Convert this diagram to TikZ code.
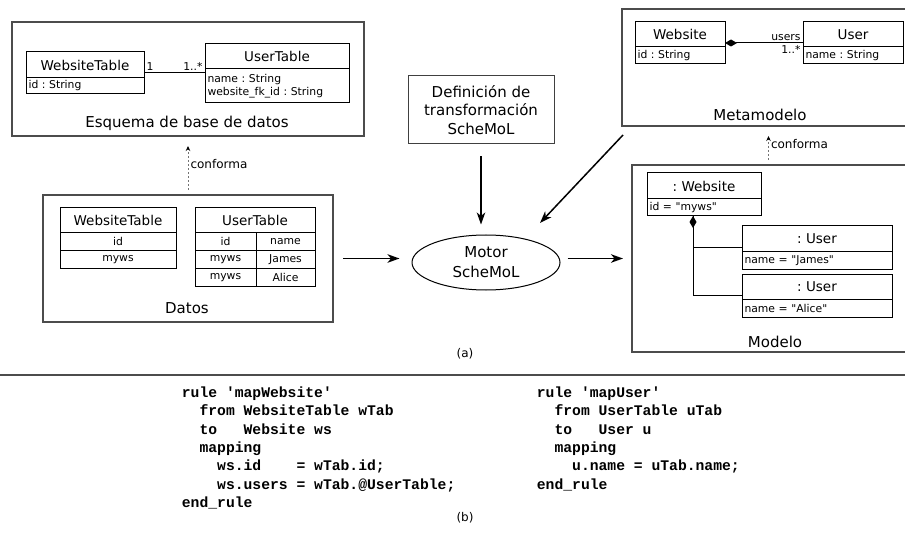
\documentclass[tikz,border=0pt]{standalone}
\usepackage{fontspec}
\setmainfont{DejaVu Sans}[Ligatures=TeXOff]
\setmonofont{Liberation Mono}
\usetikzlibrary{arrows.meta,positioning,shapes.geometric,fit,calc}
\newcommand{\umlheadfont}{\fontsize{13.5}{16}\selectfont}
\newcommand{\umlattrfont}{\fontsize{10.8}{13.3}\selectfont}
\newcommand{\framefont}{\fontsize{15}{18.7}\selectfont}
\newcommand{\codeind}[1]{\hspace*{#1\dimexpr 0.6em\relax}}
\frenchspacing

\begin{document}
\begin{tikzpicture}[x=1pt,y=-1pt,
  frame/.style={draw=black!70,line width=1.2pt,anchor=north west,inner sep=0pt,outer sep=0pt},
  framelabel/.style={font=\framefont},
  umlhead/.style 2 args={draw,line width=1pt,anchor=north west,inner sep=0pt,outer sep=0pt,
    minimum width=#1,minimum height=#2,font=\umlheadfont},
  umlattr/.style 2 args={draw,line width=1pt,anchor=north west,inner xsep=2.5pt,inner ysep=0pt,outer sep=0pt,
    text width=#1,minimum height=#2,align=left,font=\umlattrfont},
  umlclass/.style={fit=#1,inner sep=0pt,outer sep=0pt},
  cell/.style 2 args={draw,line width=1pt,anchor=north west,inner sep=0pt,outer sep=0pt,
    minimum width=#1,minimum height=#2,font=\umlattrfont},
  compo/.style={{Diamond[length=12pt,width=7pt]}-,line width=1pt},
  assoc/.style={line width=1pt},
  flow/.style={-{Stealth[length=12pt,width=8.5pt,inset=3.5pt]},line width=1.5pt},
  conf/.style={draw=black!55,line width=1pt,dash pattern=on 1.5pt off 2.5pt,
    -{Stealth[length=5pt,width=4.5pt,color=black]}},
  conflabel/.style={font=\fontsize{12}{14}\selectfont,inner sep=2pt},
  multlabel/.style={font=\umlattrfont,inner sep=2pt},
  codeblock/.style={anchor=base west,align=left,inner sep=0pt,
    font=\ttfamily\bfseries\fontsize{14.7}{18.3}\selectfont},
  caption/.style={font=\fontsize{12}{14}\selectfont}
]
  \useasboundingbox (0,0) rectangle (905,540);

  % (a)
  \node[frame,minimum width=352pt,minimum height=114pt] (esquema) at (12,22) {};
  \node[frame,minimum width=290pt,minimum height=127pt] (datos) at (43,195) {};
  \node[frame,minimum width=293pt,minimum height=117pt] (meta) at (622,9) {};
  \node[frame,minimum width=283pt,minimum height=187pt] (modelo) at (632,165) {};

  \node[umlhead={118pt}{26pt}] (wth) at (26,52) {WebsiteTable};
  \node[umlattr={113pt}{16pt}] (wta) at (wth.south west) {id : String};
  \node[umlclass={(wth)(wta)}] (wtclass) {};
  \node[umlhead={144pt}{25pt}] (uth) at (205,44) {UserTable};
  \node[umlattr={139pt}{34pt}] (uta) at (uth.south west) {name : String\\website\_fk\_id : String};
  \node[umlclass={(uth)(uta)}] (utclass) {};
  \draw[assoc] (wtclass.east) -- (wtclass.east -| utclass.west)
    node[pos=0,above right,multlabel] {1}
    node[pos=1,above left,multlabel] {1..*};
  \node[framelabel] (esquemalbl) at (187,123) {Esquema de base de datos};

  \node[cell={116pt}{25pt},font=\umlheadfont] (wtt) at (60,208) {WebsiteTable};
  \node[cell={116pt}{17.7pt}] (wtid) at (wtt.south west) {id};
  \node[cell={116pt}{17.7pt}] (wtval) at (wtid.south west) {myws};
  \node[cell={120pt}{25pt},font=\umlheadfont] (utt) at (195,208) {UserTable};
  \foreach \uid/\uname [count=\r from 0] in {id/name,myws/James,myws/Alice} {
    \node[cell={61pt}{17.7pt}] (utid\r) at (195,{233+17.7*\r}) {\uid};
    \node[cell={59pt}{17.7pt}] (utname\r) at (utid\r.north east) {\uname};
  }
  \node[framelabel] (datoslbl) at (187,308) {Datos};

  \node[umlhead={90pt}{25pt}] (mwh) at (635,22) {Website};
  \node[umlattr={85pt}{17pt}] (mwa) at (mwh.south west) {id : String};
  \node[umlclass={(mwh)(mwa)}] (mwclass) {};
  \node[umlhead={100pt}{25pt}] (muh) at (803,22) {User};
  \node[umlattr={95pt}{17pt}] (mua) at (muh.south west) {name : String};
  \node[umlclass={(muh)(mua)}] (muclass) {};
  \draw[compo] (mwclass.east) -- (muclass.west)
    node[pos=1,above left,multlabel] {users}
    node[pos=1,below left,multlabel] {1..*};
  \node[framelabel] (metalbl) at (760,115) {Metamodelo};

  \node[umlhead={114pt}{26pt}] (owh) at (647,173) {: Website};
  \node[umlattr={109pt}{17pt}] (owa) at (owh.south west) {id = "myws"};
  \node[umlhead={150pt}{26pt}] (ou1h) at (742,226) {: User};
  \node[umlattr={145pt}{17pt}] (ou1a) at (ou1h.south west) {name = "James"};
  \node[umlclass={(ou1h)(ou1a)}] (ou1) {};
  \node[umlhead={150pt}{25pt}] (ou2h) at (742,274) {: User};
  \node[umlattr={145pt}{18pt}] (ou2a) at (ou2h.south west) {name = "Alice"};
  \node[umlclass={(ou2h)(ou2a)}] (ou2) {};
  \coordinate (owlink) at ([xshift=-11pt]owa.south);
  \draw[compo] (owlink) |- (ou1.west);
  \draw[assoc] (owlink) |- (ou2.west);
  \node[framelabel] (modelolbl) at (775,342) {Modelo};

  \node[draw=black!75,line width=1pt,minimum width=146pt,minimum height=68pt,align=center,
    font=\framefont] (defn) at (481,110) {Definición de\\transformación\\ScheMoL};
  \node[ellipse,draw,line width=1pt,minimum width=148pt,minimum height=55pt,align=center,
    font=\fontsize{15}{20}\selectfont] (motor) at (486,262.5) {Motor\\ScheMoL};

  \draw[flow,shorten <=12pt,shorten >=10pt] (defn.south) -- (defn.south |- motor.north);
  \draw[flow,shorten <=10pt,shorten >=12pt] (datos.east) -- (datos.east -| motor.west);
  \draw[flow,shorten <=7pt,shorten >=9pt] (motor.east |- modelo.west) -- (modelo.west);
  \draw[flow] ([xshift=1pt,yshift=-9pt]meta.south west) -- ([xshift=54pt,yshift=39.5pt]motor.center);

  \draw[conf,shorten <=5pt,shorten >=10pt] (datos.north) -- (esquema.south)
    node[pos=0.52,right,conflabel] {conforma};
  \draw[conf,shorten <=5pt,shorten >=10pt] (meta.south |- modelo.north) -- (meta.south)
    node[pos=0.55,right,conflabel] {conforma};

  \node[caption] (capa) at (465,354) {(a)};
  \draw[draw=black!70,line width=1.2pt] (0,375) -- (905,375);

  % (b)
  \node[codeblock] (rulews) at (181.7,507.3) {rule 'mapWebsite'\\
    \codeind{2}from WebsiteTable wTab\\
    \codeind{2}to\ \ \ Website ws\\
    \codeind{2}mapping\\
    \codeind{4}ws.id\ \ \ \ = wTab.id;\\
    \codeind{4}ws.users = wTab.@UserTable;\\
    end\_rule};
  \node[codeblock] (ruleuser) at (536.7,489) {rule 'mapUser'\\
    \codeind{2}from UserTable uTab\\
    \codeind{2}to\ \ \ User u\\
    \codeind{2}mapping\\
    \codeind{4}u.name = uTab.name;\\
    end\_rule};
  \node[caption] (capb) at (465,518) {(b)};
\end{tikzpicture}
\end{document}
